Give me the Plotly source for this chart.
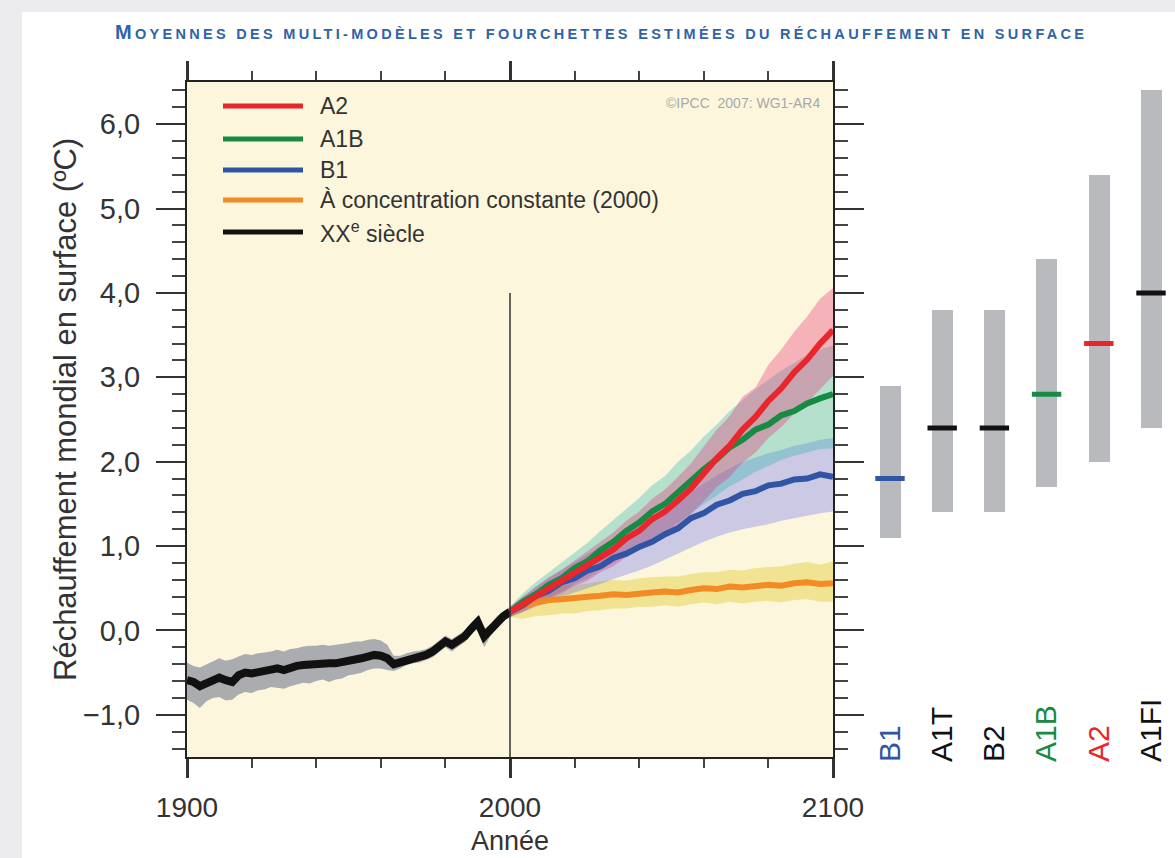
import plotly.graph_objects as go

# ---------------------------------------------------------------- data
# 20th-century simulated warming (multi-model mean and spread), 2-year steps
hist_years = list(range(1900, 2001, 2))
hist_mean = [-0.59, -0.61, -0.66, -0.62, -0.58, -0.56, -0.59, -0.61, -0.53, -0.50,
             -0.51, -0.49, -0.47, -0.46, -0.45, -0.47, -0.44, -0.42, -0.41, -0.40,
             -0.39, -0.38, -0.39, -0.39, -0.38, -0.35, -0.34, -0.33, -0.31, -0.29,
             -0.30, -0.33, -0.40, -0.38, -0.34, -0.32, -0.31, -0.29, -0.25, -0.19,
             -0.13, -0.17, -0.12, -0.07, 0.02, 0.10, -0.07, 0.02, 0.11, 0.17, 0.22]
hist_lo = [-0.82, -0.86, -0.92, -0.84, -0.80, -0.79, -0.83, -0.82, -0.76, -0.73,
           -0.74, -0.71, -0.70, -0.67, -0.68, -0.69, -0.66, -0.64, -0.62, -0.63,
           -0.60, -0.58, -0.61, -0.58, -0.57, -0.53, -0.52, -0.50, -0.47, -0.45,
           -0.45, -0.47, -0.48, -0.45, -0.41, -0.39, -0.38, -0.35, -0.32, -0.26,
           -0.20, -0.25, -0.19, -0.14, -0.05, 0.03, -0.20, -0.06, 0.04, 0.11, 0.16]
hist_hi = [-0.38, -0.42, -0.44, -0.40, -0.36, -0.33, -0.36, -0.34, -0.31, -0.28,
           -0.29, -0.27, -0.26, -0.25, -0.23, -0.25, -0.22, -0.21, -0.19, -0.18,
           -0.18, -0.17, -0.18, -0.17, -0.16, -0.15, -0.13, -0.13, -0.11, -0.10,
           -0.12, -0.17, -0.30, -0.30, -0.27, -0.25, -0.24, -0.22, -0.18, -0.12,
           -0.06, -0.10, -0.05, 0.00, 0.09, 0.17, 0.02, 0.08, 0.17, 0.23, 0.28]

# 21st-century projections, 4-year steps
proj_years = list(range(2000, 2101, 4))

a2_mean = [0.22, 0.31, 0.41, 0.51, 0.58, 0.68, 0.76, 0.87, 0.96, 1.09, 1.18, 1.32, 1.41,
           1.54, 1.68, 1.86, 2.04, 2.19, 2.38, 2.53, 2.72, 2.87, 3.06, 3.21, 3.40, 3.56]
a2_lo = [0.16, 0.22, 0.30, 0.38, 0.44, 0.53, 0.59, 0.69, 0.76, 0.87, 0.95, 1.07, 1.14,
         1.26, 1.38, 1.53, 1.70, 1.82, 1.99, 2.11, 2.28, 2.41, 2.57, 2.70, 2.86, 3.02]
a2_hi = [0.28, 0.40, 0.52, 0.63, 0.72, 0.83, 0.93, 1.05, 1.16, 1.30, 1.41, 1.56, 1.67,
         1.82, 1.98, 2.18, 2.38, 2.54, 2.77, 2.88, 3.15, 3.33, 3.54, 3.72, 3.93, 4.06]

a1b_mean = [0.22, 0.34, 0.43, 0.54, 0.62, 0.74, 0.82, 0.95, 1.05, 1.18, 1.28, 1.41, 1.50,
            1.64, 1.76, 1.91, 2.03, 2.17, 2.26, 2.38, 2.44, 2.55, 2.60, 2.69, 2.75, 2.80]
a1b_lo = [0.16, 0.24, 0.31, 0.39, 0.46, 0.55, 0.62, 0.72, 0.80, 0.91, 0.99, 1.09, 1.17,
          1.28, 1.38, 1.50, 1.60, 1.71, 1.79, 1.88, 1.95, 2.02, 2.07, 2.11, 2.15, 2.16]
a1b_hi = [0.28, 0.44, 0.57, 0.69, 0.80, 0.93, 1.04, 1.18, 1.31, 1.45, 1.57, 1.72, 1.83,
          2.00, 2.13, 2.30, 2.44, 2.60, 2.73, 2.86, 2.97, 3.08, 3.17, 3.27, 3.33, 3.38]

b1_mean = [0.22, 0.30, 0.41, 0.47, 0.57, 0.62, 0.71, 0.76, 0.86, 0.91, 0.99, 1.05, 1.14,
           1.21, 1.33, 1.39, 1.49, 1.54, 1.62, 1.65, 1.72, 1.74, 1.79, 1.80, 1.85, 1.82]
b1_lo = [0.16, 0.22, 0.28, 0.33, 0.40, 0.45, 0.50, 0.55, 0.61, 0.66, 0.71, 0.77, 0.84,
         0.91, 0.98, 1.05, 1.11, 1.16, 1.20, 1.23, 1.26, 1.30, 1.33, 1.36, 1.39, 1.41]
b1_hi = [0.28, 0.40, 0.52, 0.62, 0.72, 0.81, 0.90, 0.99, 1.08, 1.17, 1.25, 1.34, 1.43,
         1.53, 1.64, 1.74, 1.84, 1.92, 2.00, 2.05, 2.10, 2.14, 2.19, 2.22, 2.26, 2.28]

const_mean = [0.22, 0.29, 0.33, 0.36, 0.37, 0.39, 0.40, 0.41, 0.43, 0.42, 0.44, 0.45, 0.46,
              0.45, 0.48, 0.50, 0.49, 0.52, 0.51, 0.53, 0.54, 0.53, 0.56, 0.57, 0.55, 0.56]
const_lo = [0.16, 0.14, 0.17, 0.18, 0.20, 0.20, 0.23, 0.24, 0.26, 0.26, 0.28, 0.28, 0.30,
            0.28, 0.31, 0.33, 0.31, 0.34, 0.32, 0.34, 0.35, 0.33, 0.36, 0.37, 0.34, 0.34]
const_hi = [0.28, 0.40, 0.47, 0.50, 0.53, 0.54, 0.56, 0.58, 0.60, 0.59, 0.62, 0.63, 0.64,
            0.64, 0.67, 0.69, 0.69, 0.72, 0.71, 0.74, 0.75, 0.76, 0.79, 0.81, 0.78, 0.82]

# Best estimate and likely range of warming at 2090-2099 for each scenario
scenarios = ["B1", "A1T", "B2", "A1B", "A2", "A1FI"]
scen_best = [1.8, 2.4, 2.4, 2.8, 3.4, 4.0]
scen_low = [1.1, 1.4, 1.4, 1.7, 2.0, 2.4]
scen_high = [2.9, 3.8, 3.8, 4.4, 5.4, 6.4]

x_ticks = [1900, 2000, 2100]

# ---------------------------------------------------------------- styling
W, H = 1175, 858
FONT = "Liberation Sans, Arial, sans-serif"
TXT = "#333333"
BG = "#fcf7dc"

RED, GREEN, BLUE, ORANGE, BLACK = "#e8262b", "#178a44", "#2f55a4", "#f28a25", "#111111"
scen_colors = [BLUE, BLACK, BLACK, GREEN, RED, BLACK]


def px_x(p):
    return p / W


def px_y(p):
    return 1 - p / H


x_dom = [px_x(187), px_x(833)]
y_dom = [px_y(757), px_y(82)]
y_rng = [-1.5, 6.5]


def band(xs, lo, hi, color):
    return go.Scatter(x=xs + xs[::-1], y=hi + lo[::-1], fill="toself",
                      fillcolor=color, line=dict(width=0), mode="lines",
                      hoverinfo="skip", showlegend=False)


def line(xs, ys, color, width):
    return go.Scatter(x=xs, y=ys, mode="lines", line=dict(color=color, width=width),
                      showlegend=False)


fig = go.Figure()

# historical spread and mean
fig.add_trace(band(hist_years, hist_lo, hist_hi, "rgb(170,172,176)"))
fig.add_trace(line(hist_years, hist_mean, BLACK, 8))

# projection spreads
fig.add_trace(band(proj_years, const_lo, const_hi, "rgba(225,200,40,0.42)"))
fig.add_trace(band(proj_years, b1_lo, b1_hi, "rgba(90,95,250,0.30)"))
fig.add_trace(band(proj_years, a1b_lo, a1b_hi, "rgba(50,180,175,0.35)"))
fig.add_trace(band(proj_years, a2_lo, a2_hi, "rgba(235,40,115,0.33)"))

# projection means
fig.add_trace(line(proj_years, const_mean, ORANGE, 6))
fig.add_trace(line(proj_years, b1_mean, BLUE, 6))
fig.add_trace(line(proj_years, a1b_mean, GREEN, 6))
fig.add_trace(line(proj_years, a2_mean, RED, 6))

# likely ranges per scenario (right panel)
fig.add_trace(go.Bar(x=scenarios, y=[h - l for h, l in zip(scen_high, scen_low)],
                     base=scen_low, width=0.4, marker=dict(color="#b9babd", line=dict(width=0)),
                     xaxis="x3", yaxis="y3", showlegend=False))
fig.add_trace(go.Scatter(x=scenarios, y=scen_best, mode="markers",
                         marker=dict(symbol="line-ew", size=21,
                                     line=dict(color=scen_colors, width=5)),
                         xaxis="x3", yaxis="y3", showlegend=False))

frame = dict(ticks="outside", tickcolor="#333", showgrid=False, zeroline=False,
             showline=True, linecolor="#222", linewidth=2, mirror="ticks", automargin=False)

fig.update_layout(
    width=W, height=H,
    margin=dict(l=0, r=0, t=0, b=0, autoexpand=False),
    paper_bgcolor="white",
    plot_bgcolor="white",
    separators=", ",
    font=dict(family=FONT, color=TXT),
    showlegend=False,
    bargap=0,
    xaxis=dict(domain=x_dom, range=[1900, 2100], tickmode="array", tickvals=x_ticks,
               tickformat="d", ticklen=19, tickwidth=2.5, ticklabelstandoff=5,
               tickfont=dict(size=28, color=TXT),
               minor=dict(dtick=20, tick0=1900, ticks="outside", ticklen=9, tickwidth=1.5,
                          tickcolor="#444", showgrid=False),
               anchor="y", **frame),
    yaxis=dict(domain=y_dom, range=y_rng, tickmode="linear", tick0=0, dtick=1,
               tickformat=".1f", ticklen=29, tickwidth=2, ticklabelstandoff=10,
               tickfont=dict(size=29, color=TXT),
               minor=dict(dtick=0.2, tick0=0, ticks="outside", ticklen=13, tickwidth=1.5,
                          tickcolor="#444", showgrid=False),
               anchor="x", **frame),
    xaxis3=dict(domain=[px_x(890 - 0.6 * 52.2), px_x(890 + 5.4 * 52.2)], range=[-0.6, 5.4],
                type="category", side="top", anchor="free", position=px_y(762),
                showline=False, showgrid=False, zeroline=False, ticks="", tickangle=-90,
                automargin=False, tickmode="array", tickvals=scenarios,
                ticktext=[f"<span style='color:{c}'>{s}</span>"
                          for s, c in zip(scenarios, scen_colors)],
                tickfont=dict(size=30, color=TXT)),
    yaxis3=dict(domain=y_dom, range=y_rng, anchor="x3", visible=False),
)

# cream panel behind the time series
fig.add_shape(type="rect", xref="x domain", yref="y domain", x0=0, x1=1, y0=0, y1=1,
              fillcolor=BG, line=dict(width=0), layer="below")

# frame divider: projections start in 2000
fig.add_shape(type="line", x0=2000, x1=2000, y0=y_rng[0], y1=4.0, xref="x", yref="y",
              line=dict(color="#333", width=1.5), layer="above")

# page edge strips
fig.add_shape(type="rect", xref="paper", yref="paper", x0=0, x1=px_x(22), y0=0, y1=1,
              fillcolor="#ebebed", line=dict(width=0), layer="below")
fig.add_shape(type="rect", xref="paper", yref="paper", x0=0, x1=1, y0=px_y(12), y1=1,
              fillcolor="#ebebed", line=dict(width=0), layer="below")

# legend drawn inside the frame
legend_items = [("A2", RED), ("A1B", GREEN), ("B1", BLUE),
                ("À concentration constante (2000)", ORANGE), ("XX<sup>e</sup> siècle", BLACK)]
legend_rows = [106, 139, 170, 200, 232]
for (label, col), row in zip(legend_items, legend_rows):
    fig.add_shape(type="line", xref="paper", yref="paper", x0=px_x(223), x1=px_x(303),
                  y0=px_y(row), y1=px_y(row), line=dict(color=col, width=5))
    fig.add_annotation(x=px_x(318), y=px_y(row), xref="paper", yref="paper", text=label,
                       showarrow=False, xanchor="left", yanchor="middle",
                       font=dict(size=23, color=TXT))

fig.add_annotation(x=px_x(822), y=px_y(103), xref="paper", yref="paper",
                   text="©IPCC  2007: WG1-AR4", showarrow=False, xanchor="right",
                   yanchor="middle", font=dict(size=14, color="#a8a8a8"))

# axis titles
fig.add_annotation(x=px_x(66), y=px_y(410), xref="paper", yref="paper",
                   text="Réchauffement mondial en surface (ºC)", textangle=-90,
                   showarrow=False, xanchor="center", yanchor="middle",
                   font=dict(size=31, color=TXT))
fig.add_annotation(x=px_x(510), y=px_y(841), xref="paper", yref="paper", text="Année",
                   showarrow=False, xanchor="center", yanchor="middle",
                   font=dict(size=27, color=TXT))

# title in small capitals
fig.add_annotation(
    x=px_x(601), y=px_y(32), xref="paper", yref="paper", showarrow=False,
    xanchor="center", yanchor="middle",
    text="<b><span style='letter-spacing:3.3px'><span style='font-size:20px'>M</span>"
         "OYENNES DES MULTI-MODÈLES ET FOURCHETTES ESTIMÉES DU RÉCHAUFFEMENT EN SURFACE"
         "</span></b>",
    font=dict(size=14.5, color="#2f63a6"))

fig.write_html("out.html")
